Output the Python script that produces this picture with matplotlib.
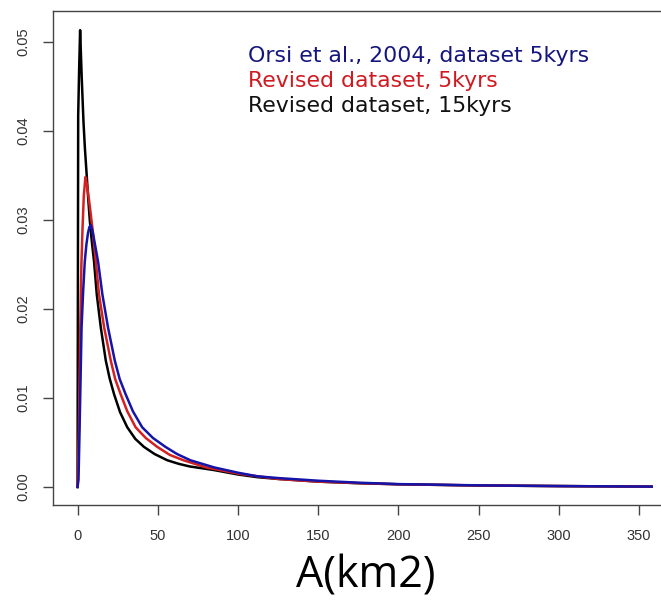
import matplotlib
matplotlib.use('Agg')
import matplotlib.pyplot as pyplot
from matplotlib.ticker import StrMethodFormatter

# curves (area in km2, density)
orsi_x = [0, 0.6, 1.1, 1.7, 2.5, 3.5, 4.5, 5.5, 6.5, 7.4, 8.3, 9.4, 10.5,
          12.8, 15.5, 19.0, 23.2, 26.3, 30.0, 34.5, 40.3, 47, 54.8, 62,
          70.3, 85, 100, 112, 125, 150, 175, 200, 250, 300, 357.9]
orsi_y = [0, 0.0008, 0.005, 0.0104, 0.0179, 0.022, 0.0253, 0.0272, 0.0285,
          0.0292, 0.0294, 0.0287, 0.0276, 0.0253, 0.0216, 0.0179, 0.0142,
          0.0121, 0.0104, 0.0085, 0.0067, 0.0055, 0.0045, 0.0037, 0.0030,
          0.0022, 0.0016, 0.0012, 0.0010, 0.0007, 0.00048, 0.00032, 0.00018,
          0.0001, 0.00004]

rev5_x = [0, 0.8, 1.7, 2.4, 3.1, 3.9, 4.9, 5.8, 6.8, 8.0, 9.3, 11.4, 13.4,
          16.6, 20.7, 23.5, 26.9, 31, 36.2, 42.5, 49.7, 57.5, 66, 80, 100,
          112, 125, 150, 175, 200, 250, 300, 357.9]
rev5_y = [0, 0.006, 0.0179, 0.025, 0.029, 0.0327, 0.0348, 0.034, 0.0327,
          0.031, 0.029, 0.0253, 0.0216, 0.0179, 0.0142, 0.0121, 0.0104,
          0.0085, 0.0067, 0.0055, 0.0045, 0.0036, 0.0030, 0.0022, 0.0015,
          0.0012, 0.0009, 0.0006, 0.00043, 0.0003, 0.00017, 0.0001, 0.00004]

rev15_x = [0, 0.4, 1.0, 1.6, 2.6, 3.7, 4.6, 5.6, 6.6, 7.7, 9.0, 10.3, 12.0,
           14.5, 17.6, 20, 22.8, 26.5, 31, 36, 41.4, 48, 55.9, 63, 70, 85,
           100, 112, 125, 150, 175, 200, 250, 300, 357.9]
rev15_y = [0, 0.0417, 0.047, 0.0513, 0.046, 0.041, 0.038, 0.0353, 0.0325,
           0.0298, 0.0274, 0.0253, 0.0216, 0.0179, 0.0142, 0.0122, 0.0104,
           0.0084, 0.0067, 0.0054, 0.0045, 0.0037, 0.0030, 0.0026, 0.0023,
           0.0019, 0.0014, 0.0011, 0.0009, 0.0006, 0.00042, 0.0003, 0.00016,
           0.0001, 0.00003]

labels = ['Orsi et al., 2004, dataset 5kyrs', 'Revised dataset, 5kyrs',
          'Revised dataset, 15kyrs']
text_colors = ['#15157f', '#d01a22', '#111111']

x_ticks = [0, 50, 100, 150, 200, 250, 300, 350]
y_ticks = [0.00, 0.01, 0.02, 0.03, 0.04, 0.05]

W, H = 661, 601
fig = pyplot.figure(figsize=(W / 100, H / 100), dpi=100)
# axes box runs past the right edge of the picture, like the cropped original
ax = fig.add_axes([53 / W, (H - 504.5) / H, (700 - 53) / W, (504.5 - 11) / H])

ax.plot(rev15_x, rev15_y, color='black', lw=1.8)
ax.plot(rev5_x, rev5_y, color='#d42020', lw=1.8)
ax.plot(orsi_x, orsi_y, color='#1414a8', lw=1.8)

ax.set_xlim(-15.3, 388)
ax.set_ylim(-0.00197, 0.05345)
ax.set_xticks(x_ticks)
ax.set_yticks(y_ticks)
ax.yaxis.set_major_formatter(StrMethodFormatter('{x:.2f}'))

for side in ['left', 'bottom', 'top', 'right']:
    ax.spines[side].set_color('#444444')
    ax.spines[side].set_linewidth(1.0)

ax.tick_params(axis='both', length=7, width=1.0, color='#444444',
               labelcolor='#333333', labelsize=10.5)
ax.tick_params(axis='x', pad=11)
ax.tick_params(axis='y', pad=9)
for lab in ax.get_yticklabels():
    lab.set_rotation(90)
    lab.set_va('center')
for lab in ax.get_xticklabels() + ax.get_yticklabels():
    lab.set_fontfamily('Liberation Sans')

# coloured text legend
for i, (txt, col) in enumerate(zip(labels, text_colors)):
    fig.text(248 / W, 1 - (62 + 25 * i) / H, txt, color=col, fontsize=15.8,
             family='DejaVu Sans', ha='left', va='baseline')

fig.text(366 / W, 1 - 576 / H, 'A(km2)', fontsize=31, family='Open Sans',
         ha='center', va='center', color='black')

pyplot.savefig('out.png', dpi=100)
